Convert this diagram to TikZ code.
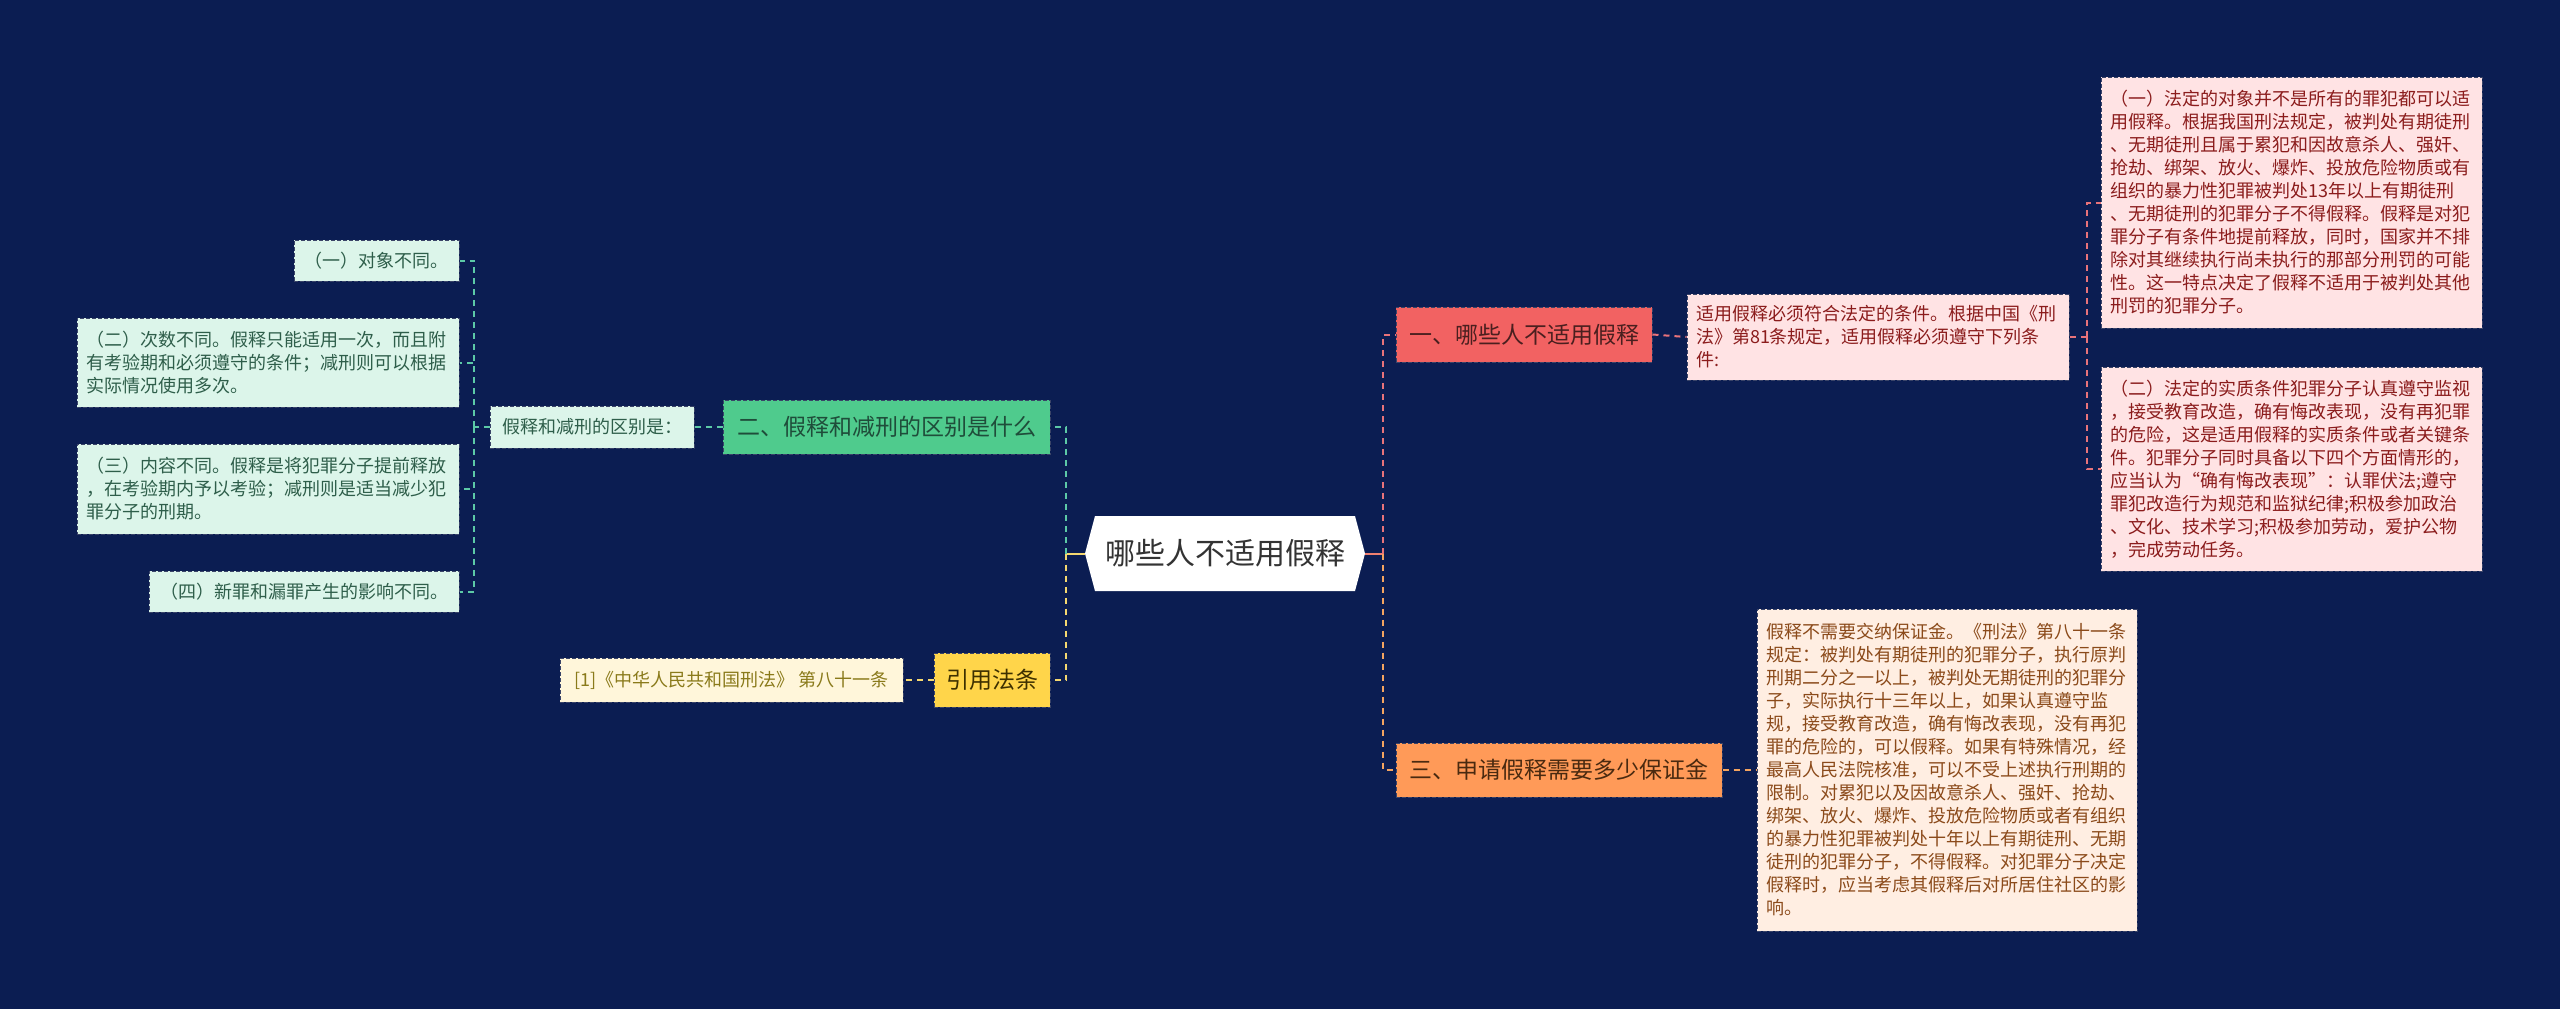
\documentclass[tikz,border=0pt]{standalone}
\usepackage{fontspec}
\newfontfamily\cjk{Noto Sans CJK SC}
\definecolor{bg}{HTML}{0B1D52}
\definecolor{boxline}{HTML}{3A4468}
\definecolor{redfill}{HTML}{F26262}
\definecolor{redtext}{HTML}{4A1F1F}
\definecolor{pinkfill}{HTML}{FFE3E4}
\definecolor{pinktext}{HTML}{8B1C1C}
\definecolor{redline}{HTML}{E8737A}
\definecolor{greenfill}{HTML}{4FCB8D}
\definecolor{greentext}{HTML}{1F4D3A}
\definecolor{mintfill}{HTML}{DCF5EA}
\definecolor{minttext}{HTML}{2E5E4A}
\definecolor{greenline}{HTML}{5CC9A7}
\definecolor{yellowfill}{HTML}{FFD54A}
\definecolor{yellowtext}{HTML}{3D3000}
\definecolor{creamfill}{HTML}{FFF6DA}
\definecolor{creamtext}{HTML}{8A7A1A}
\definecolor{yellowline}{HTML}{F5D870}
\definecolor{orangefill}{HTML}{FF9A58}
\definecolor{orangetext}{HTML}{4A2A10}
\definecolor{peachfill}{HTML}{FFEEE2}
\definecolor{peachtext}{HTML}{8B4A1A}
\definecolor{orangeline}{HTML}{F4A460}
\definecolor{salmonline}{HTML}{F08070}
\begin{document}
\begin{tikzpicture}[x=1pt,y=-1pt,
  box/.style={inner sep=0pt, draw=boxline, line width=1pt, dash pattern=on 4pt off 2pt},
  leaf/.style={box, align=left, inner xsep=9pt, font=\cjk\fontsize{18}{23}\selectfont},
  shortleaf/.style={box, align=center, font=\cjk\fontsize{18}{23}\selectfont},
  branch/.style={box, align=center, font=\cjk\fontsize{23}{28}\selectfont},
  conn/.style={line width=2pt, dash pattern=on 6pt off 5pt},
  solidconn/.style={line width=2pt},
]
\fill[bg] (0,0) rectangle (2560,1009);
\useasboundingbox (0,0) rectangle (2560,1009);

% center hexagon
\fill[white] (1095,516) -- (1355,516) -- (1365,553.5) -- (1355,591) -- (1095,591) -- (1085,553.5) -- cycle;
\coordinate (cL) at (1085,553.5);
\coordinate (cR) at (1365,553.5);
\node[font=\cjk\fontsize{30}{36}\selectfont, text=black!80, inner sep=0pt] (c) at (1225,553.5) {哪些人不适用假释};

% junctions
\coordinate (jL) at (1066,553.5);
\coordinate (jR) at (1383,553.5);
\coordinate (jG) at (2087,337);
\coordinate (jLL) at (474,427);

% right branches
\node[branch, fill=redfill, text=redtext, minimum width=256pt, minimum height=55pt] (b1) at (1524,334.5) {一、哪些人不适用假释};
\node[leaf, fill=pinkfill, text=pinktext, text width=364pt, minimum height=86pt] (b1c) at (1878,337) {适用假释必须符合法定的条件。根据中国《刑\\法》第81条规定，适用假释必须遵守下列条\\件:};
\node[leaf, fill=pinkfill, text=pinktext, text width=363pt, minimum height=251pt] (g1) at (2291.5,202.5) {（一）法定的对象并不是所有的罪犯都可以适\\用假释。根据我国刑法规定，被判处有期徒刑\\、无期徒刑且属于累犯和因故意杀人、强奸、\\抢劫、绑架、放火、爆炸、投放危险物质或有\\组织的暴力性犯罪被判处13年以上有期徒刑\\、无期徒刑的犯罪分子不得假释。假释是对犯\\罪分子有条件地提前释放，同时，国家并不排\\除对其继续执行尚未执行的那部分刑罚的可能\\性。这一特点决定了假释不适用于被判处其他\\刑罚的犯罪分子。};
\node[leaf, fill=pinkfill, text=pinktext, text width=363pt, minimum height=204pt] (g2) at (2291.5,469) {（二）法定的实质条件犯罪分子认真遵守监视\\，接受教育改造，确有悔改表现，没有再犯罪\\的危险，这是适用假释的实质条件或者关键条\\件。犯罪分子同时具备以下四个方面情形的，\\应当认为“确有悔改表现”：认罪伏法;遵守\\罪犯改造行为规范和监狱纪律;积极参加政治\\、文化、技术学习;积极参加劳动，爱护公物\\，完成劳动任务。};

\node[branch, fill=orangefill, text=orangetext, minimum width=326pt, minimum height=54pt] (b3) at (1559,770) {三、申请假释需要多少保证金};
\node[leaf, fill=peachfill, text=peachtext, text width=362pt, minimum height=322pt] (b3c) at (1947,770) {假释不需要交纳保证金。《刑法》第八十一条\\规定：被判处有期徒刑的犯罪分子，执行原判\\刑期二分之一以上，被判处无期徒刑的犯罪分\\子，实际执行十三年以上，如果认真遵守监\\规，接受教育改造，确有悔改表现，没有再犯\\罪的危险的，可以假释。如果有特殊情况，经\\最高人民法院核准，可以不受上述执行刑期的\\限制。对累犯以及因故意杀人、强奸、抢劫、\\绑架、放火、爆炸、投放危险物质或者有组织\\的暴力性犯罪被判处十年以上有期徒刑、无期\\徒刑的犯罪分子，不得假释。对犯罪分子决定\\假释时，应当考虑其假释后对所居住社区的影\\响。};

% left branches
\node[branch, fill=greenfill, text=greentext, minimum width=327pt, minimum height=54pt] (b2) at (886.5,427) {二、假释和减刑的区别是什么};
\node[shortleaf, fill=mintfill, text=minttext, minimum width=204pt, minimum height=42pt] (b2c) at (592,427) {假释和减刑的区别是：};
\node[shortleaf, fill=mintfill, text=minttext, minimum width=165pt, minimum height=41pt] (l1) at (376.5,260.5) {（一）对象不同。};
\node[leaf, fill=mintfill, text=minttext, text width=364pt, minimum height=89pt] (l2) at (268,362.5) {（二）次数不同。假释只能适用一次，而且附\\有考验期和必须遵守的条件；减刑则可以根据\\实际情况使用多次。};
\node[leaf, fill=mintfill, text=minttext, text width=364pt, minimum height=90pt] (l3) at (268,489) {（三）内容不同。假释是将犯罪分子提前释放\\，在考验期内予以考验；减刑则是适当减少犯\\罪分子的刑期。};
\node[shortleaf, fill=mintfill, text=minttext, minimum width=310pt, minimum height=41pt] (l4) at (304,591.5) {（四）新罪和漏罪产生的影响不同。};

\node[branch, fill=yellowfill, text=yellowtext, minimum width=116pt, minimum height=54pt] (b4) at (992,680) {引用法条};
\node[shortleaf, fill=creamfill, text=creamtext, minimum width=343pt, minimum height=44pt] (b4c) at (731.5,680) {[1]《中华人民共和国刑法》 第八十一条};

% connectors from center
\draw[solidconn, yellowline] (cL) -- (jL);
\draw[solidconn, salmonline] (cR) -- (jR);
\draw[conn, greenline] (jL) |- (b2.east);
\draw[conn, yellowline] (jL) |- (b4.east);
\draw[conn, redline] (jR) |- (b1.west);
\draw[conn, orangeline] (jR) |- (b3.west);

% right sub connectors
\draw[conn, redline] (b1.east) -- (b1c.west);
\draw[conn, redline] (b1c.east) -- (jG);
\draw[conn, redline] (jG) |- (g1.west);
\draw[conn, redline] (jG) |- (g2.west);
\draw[conn, orangeline] (b3.east) -- (b3c.west);

% left sub connectors
\draw[conn, greenline] (b2.west) -- (b2c.east);
\draw[conn, greenline] (b2c.west) -- (jLL);
\draw[conn, greenline] (jLL) |- (l1.east);
\draw[conn, greenline] (jLL) |- (l2.east);
\draw[conn, greenline] (jLL) |- (l3.east);
\draw[conn, greenline] (jLL) |- (l4.east);
\draw[conn, yellowline] (b4.west) -- (b4c.east);
\end{tikzpicture}
\end{document}
